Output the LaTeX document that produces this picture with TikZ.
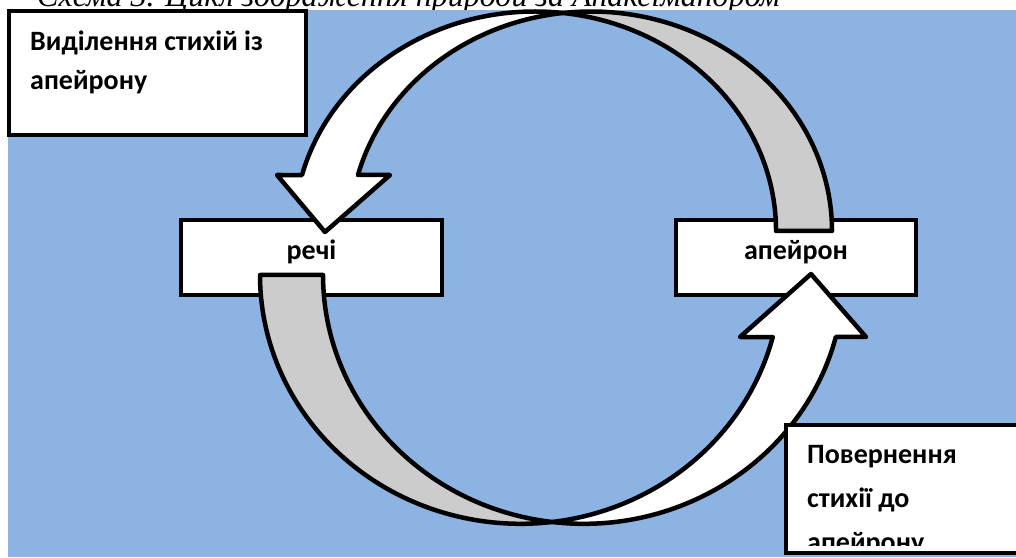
\documentclass[tikz,border=0pt]{standalone}
\usepackage{fontspec}
\setmainfont{Carlito}
\newfontfamily\captionfont{Liberation Serif}
\usetikzlibrary{positioning}
\definecolor{skyblue}{HTML}{8DB3E2}
\definecolor{backband}{HTML}{CCCCCC}
\tikzset{
	plate/.style = {draw, line width=4.5pt, fill=white, inner sep=0pt, text height=20pt, text depth=16pt, font=\bfseries\fontsize{28}{28}\selectfont},
	band/.style = {draw, line width=4.5pt, line join=round},
	boxtext/.style = {inner sep=0pt, anchor=base west, align=left, font=\bfseries\fontsize{28}{#1}\selectfont}
}
\begin{document}
\begin{tikzpicture}[x=1pt, y=1pt]
	\useasboundingbox (0,0) rectangle (1016,557);
	\clip (0,0) rectangle (1016,557);
	% caption, mostly hidden
	\node[inner sep=0pt, anchor=base west, font=\captionfont\itshape\fontsize{32}{32}\selectfont] (caption) at (37,550) {Схема 3. Цикл зображення природи за Анаксімандром};
	\fill[skyblue] (8,0) rectangle (1016,547);
	% boxes
	\node[plate, minimum width=261pt, minimum height=75pt] (things) at (311.5,299.5) {речі};
	\node[plate, minimum width=240pt, minimum height=75pt] (apeiron) at (796,299.5) {апейрон};
	% upper arrow: from apeiron to things
	\coordinate (uptip) at (325,325);
	\draw[band, fill=backband] (832,326) arc[start angle=0, end angle=96.67, x radius=241, y radius=219.5]
		arc[start angle=83.33, end angle=0, x radius=241, y radius=219.5] -- cycle;
	\draw[band, fill=white] (563,544) arc[start angle=83.33, end angle=165.22, x radius=241, y radius=219.5]
		-- (277,382) -- (uptip) -- (390,382) -- (357.97,382)
		arc[start angle=165.22, end angle=96.67, x radius=241, y radius=219.5] -- cycle;
	% lower arrow: from things to apeiron
	\coordinate (lowtip) at (811,283);
	\draw[band, fill=backband] (260,282) arc[start angle=180, end angle=276.95, x radius=260.5, y radius=248.8]
		arc[start angle=263.05, end angle=180, x radius=260.5, y radius=248.8] -- cycle;
	\draw[band, fill=white] (552,35) arc[start angle=276.95, end angle=345.57, x radius=260.5, y radius=248.8]
		-- (740,220) -- (lowtip) -- (866,220) -- (835.8,220)
		arc[start angle=345.57, end angle=263.05, x radius=260.5, y radius=248.8] -- cycle;
	% side boxes
	\node[plate, minimum width=297pt, minimum height=124pt] (split) at (157.5,484) {};
	\node[boxtext=39] (splittext) at (30,467) {Виділення стихій із\\апейрону};
	\node[plate, minimum width=254pt, minimum height=128pt] (return) at (913,68) {};
	\begin{scope}
		\clip (786,12) rectangle (1016,134);
		\node[boxtext=44] (returntext) at (807,6) {Повернення\\стихії до\\апейрону};
	\end{scope}
\end{tikzpicture}
\end{document}
